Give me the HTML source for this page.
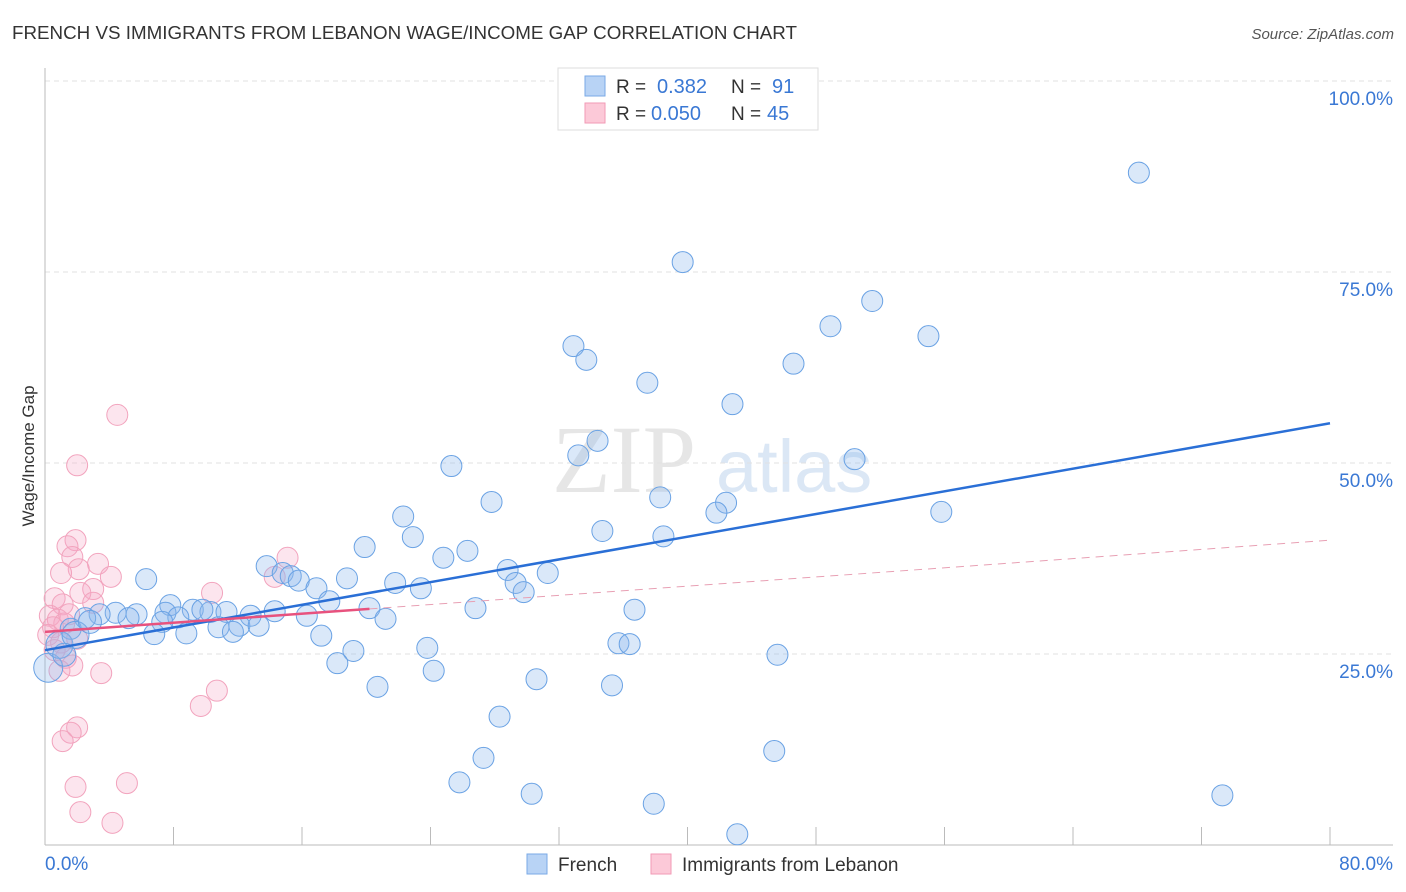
<!DOCTYPE html>
<html><head><meta charset="utf-8"><style>
body{margin:0;background:#fff;font-family:"Liberation Sans",sans-serif;}
svg{display:block}
</style></head><body>
<svg id="chart" width="1406" height="892" xmlns="http://www.w3.org/2000/svg">
<text x="12" y="39" font-size="18" fill="#333" textLength="785" lengthAdjust="spacingAndGlyphs">FRENCH VS IMMIGRANTS FROM LEBANON WAGE/INCOME GAP CORRELATION CHART</text>
<text x="1394" y="39" font-size="15" fill="#555" text-anchor="end" font-style="italic">Source: ZipAtlas.com</text>
<g>
<text x="552" y="492" font-size="96" font-family="Liberation Serif,serif" fill="#e6e6e6">ZIP</text>
<text x="716" y="492" font-size="74" fill="#dbe7f5">atlas</text>
</g>
<g id="grid"></g>
<g id="axes"></g>
<g id="pts"></g>
<g id="trends"></g>
<text transform="translate(34,456) rotate(-90)" font-size="17" fill="#333" text-anchor="middle">Wage/Income Gap</text>
<g>
<rect x="558" y="68" width="260" height="62" fill="#fff" stroke="#ddd"/>
<rect x="585" y="76" width="20" height="20" fill="#b8d3f5" stroke="#7aaae6"/>
<rect x="585" y="103" width="20" height="20" fill="#fcc9d8" stroke="#f29ab6"/>
<text x="616" y="93" font-size="19" fill="#333">R = </text><text x="657" y="93" font-size="20" fill="#3a78d4">0.382</text>
<text x="731" y="93" font-size="19" fill="#333">N = </text><text x="772" y="93" font-size="20" fill="#3a78d4">91</text>
<text x="616" y="120" font-size="19" fill="#333">R = </text><text x="651" y="120" font-size="20" fill="#3a78d4">0.050</text>
<text x="731" y="120" font-size="19" fill="#333">N = </text><text x="767" y="120" font-size="20" fill="#3a78d4">45</text>
</g>
<g>
<rect x="527" y="854" width="20" height="20" fill="#b8d3f5" stroke="#7aaae6"/>
<text x="558" y="871" font-size="19" fill="#333">French</text>
<rect x="651" y="854" width="20" height="20" fill="#fcc9d8" stroke="#f29ab6"/>
<text x="682" y="871" font-size="19" fill="#333">Immigrants from Lebanon</text>
</g>
</svg>
<script>
const yTicks=[25,50,75,100];
const yTickLabels=["25.0%","50.0%","75.0%","100.0%"];
const xTicks=[0,8,16,24,32,40,48,56,64,72,80];
const frenchX=[68.1,39.7,51.5,48.9,55.0,32.9,33.7,46.6,37.5,42.8,34.4,33.2,50.4,25.3,38.3,27.8,42.4,41.8,55.8,22.3,34.7,22.9,38.5,19.9,26.3,24.8,13.8,28.8,31.3,14.8,15.3,15.8,6.3,18.8,21.8,29.3,16.9,23.4,29.8,17.7,7.8,26.8,20.2,36.7,9.2,10.3,11.3,14.3,9.8,7.5,5.7,4.4,3.4,2.5,5.2,8.3,12.8,16.3,21.2,7.3,12.1,10.8,13.3,11.7,6.8,8.8,17.2,1.6,35.7,36.4,23.8,19.2,45.6,18.2,24.2,30.6,20.7,35.3,28.3,45.4,27.3,25.8,30.3,37.9,73.3,43.1,0.2,0.9,1.9,1.2,2.8];
const frenchY=[88.0,76.3,71.2,67.9,66.6,65.3,63.5,63.0,60.5,57.7,52.9,51.0,50.5,49.6,45.5,44.9,44.8,43.5,43.6,43.0,41.1,40.3,40.4,39.0,38.5,37.6,36.5,36.0,35.6,35.6,35.2,34.6,34.8,34.9,34.3,34.3,33.6,33.6,33.1,31.9,31.4,31.0,31.0,30.8,30.8,30.5,30.5,30.6,30.8,30.4,30.2,30.4,30.2,29.7,29.7,29.8,30.0,30.0,29.6,29.2,28.7,28.5,28.7,27.9,27.6,27.7,27.4,28.3,26.4,26.3,25.8,25.4,24.9,23.8,22.8,21.7,20.7,20.9,16.8,12.3,11.4,8.2,6.7,5.4,6.5,1.4,23.2,26.2,27.5,24.9,29.2];
const frenchSize=[12,12,12,12,12,12,12,12,12,12,12,12,12,12,12,12,12,12,12,12,12,12,12,12,12,12,12,12,12,12,12,12,12,12,12,12,12,12,12,12,12,12,12,12,12,12,12,12,12,12,12,12,12,12,12,12,12,12,12,12,12,12,12,12,12,12,12,12,12,12,12,12,12,12,12,12,12,12,12,12,12,12,12,12,12,12,16,15,15,13,13];
const lebX=[4.5,2.0,1.9,1.4,1.7,3.3,2.1,1.0,4.1,15.1,14.3,10.4,3.0,2.2,0.6,1.1,3.0,0.3,0.8,1.2,0.5,1.5,0.2,1.0,2.0,0.6,1.3,1.7,0.9,3.5,10.7,9.7,2.0,1.6,1.1,5.1,1.9,2.2,4.2];
const lebY=[56.3,49.7,39.9,39.1,37.7,36.8,36.1,35.6,35.1,37.6,35.1,33.0,33.5,33.0,32.3,31.5,31.7,30.0,29.5,29.0,28.5,30.2,27.5,26.5,27.0,25.5,24.5,23.5,22.8,22.5,20.2,18.2,15.4,14.7,13.6,8.1,7.6,4.3,2.9];
const blueTrendX=[0,80], blueTrendY=[25.5,55.2];
const pinkTrendX=[0,20.2,80], pinkTrendY=[27.9,30.9,39.9];
const X0=45,X1=1330,Y0=845,Y100=81;
const sx=v=>X0+(X1-X0)*v/80, sy=v=>Y0-(Y0-Y100)*v/100;
const NS="http://www.w3.org/2000/svg";
function mk(t,a,p){const e=document.createElementNS(NS,t);for(const k in a)e.setAttribute(k,a[k]);p.appendChild(e);return e;}
const grid=document.getElementById('grid'),axes=document.getElementById('axes'),pts=document.getElementById('pts'),tr=document.getElementById('trends');
yTicks.forEach((t,i)=>{
 const l=mk('line',{x1:X0,x2:1393,y1:sy(t),y2:sy(t),stroke:'#e2e2e2','stroke-dasharray':'5,4'},grid);
 
 
 const tx=mk('text',{x:1393,y:sy(t)+24,'font-size':19,fill:'#3a78d4','text-anchor':'end'},axes);
 tx.textContent=yTickLabels[i];
 
 
});
mk('line',{x1:X0,x2:X0,y1:68,y2:Y0,stroke:'#bbb'},axes);
mk('line',{x1:X0,x2:1393,y1:Y0,y2:Y0,stroke:'#bbb'},axes);
xTicks.forEach(t=>{if(t>0){const l=mk('line',{x1:sx(t),x2:sx(t),y1:Y0,y2:Y0-18,stroke:'#bbb'},axes);
 
 }});
const a=mk('text',{x:45,y:870,'font-size':19,fill:'#3a78d4'},axes);a.textContent='0.0%';


const b=mk('text',{x:1393,y:870,'font-size':19,fill:'#3a78d4','text-anchor':'end'},axes);b.textContent='80.0%';


lebX.forEach((x,i)=>{const c=mk('circle',{cx:sx(x),cy:sy(lebY[i]),r:10.5,fill:'rgba(246,170,198,0.3)',stroke:'#f2a3bd','stroke-width':1},pts);
 
 });
frenchX.forEach((x,i)=>{const c=mk('circle',{cx:sx(x),cy:sy(frenchY[i]),r:frenchSize[i]-1.5,fill:'rgba(140,182,236,0.32)',stroke:'#6aa2e4','stroke-width':1},pts);
 
 });
let l1=mk('line',{x1:sx(blueTrendX[0]),y1:sy(blueTrendY[0]),x2:sx(blueTrendX[1]),y2:sy(blueTrendY[1]),stroke:'#2a6fd6','stroke-width':2.5},tr);


let l2=mk('line',{x1:sx(pinkTrendX[0]),y1:sy(pinkTrendY[0]),x2:sx(pinkTrendX[1]),y2:sy(pinkTrendY[1]),stroke:'#e8527e','stroke-width':2.5},tr);


let l3=mk('line',{x1:sx(pinkTrendX[1]),y1:sy(pinkTrendY[1]),x2:sx(pinkTrendX[2]),y2:sy(pinkTrendY[2]),stroke:'#e8a0b4','stroke-width':1,'stroke-dasharray':'8,6'},tr);


</script>
</body></html>
